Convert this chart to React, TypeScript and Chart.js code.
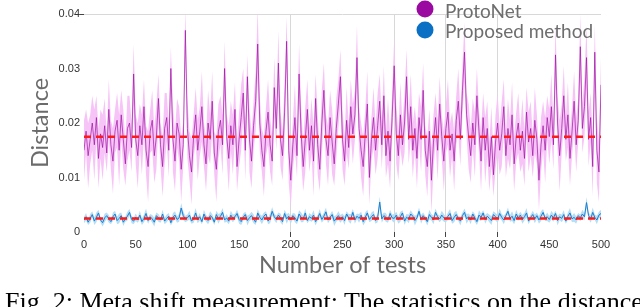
import { useEffect, useRef } from 'react';
import { Chart, registerables } from 'chart.js';

Chart.register(...registerables);

// Test numbers (x axis), sampled every 2 tests
const TESTS: number[] = Array.from({ length: 251 }, (_, i) => i * 2);
const UNIT = 1e-4; // all series below are in units of 1e-4

// ProtoNet distance per test (x1e-4)
const PROTONET = [
  150,185,140,170,200,160,210,135,180,155,195,145,225,160,130,185,205,150,215,170,125,190,200,155,290,
  170,140,195,160,230,150,120,185,205,140,175,245,160,120,190,210,150,300,170,130,200,180,115,160,370,
  190,140,110,175,215,150,185,230,160,125,200,170,240,145,115,185,205,160,300,175,135,195,160,225,120,
  170,210,255,150,285,170,130,195,240,345,200,150,120,185,220,160,130,265,190,310,170,140,220,350,150,
  95,160,210,140,290,180,120,170,225,150,195,130,245,160,115,200,260,170,140,210,165,125,190,235,285,
  170,130,205,155,230,180,215,320,190,150,120,180,235,100,170,210,150,195,240,160,250,140,185,130,210,
  305,180,140,215,160,200,285,170,230,150,190,135,210,170,260,150,120,185,95,165,210,150,235,175,130,
  190,220,150,180,130,205,240,170,260,330,215,175,140,200,160,250,185,130,210,150,190,120,175,105,165,
  200,150,180,230,140,190,160,215,125,175,200,150,185,135,220,165,190,140,205,170,95,160,195,150,210,
  175,230,160,325,200,140,190,250,170,215,135,185,240,160,205,340,190,230,320,170,210,120,330,150,110,270,
];

// ProtoNet band half-width per test (x1e-4)
const PROTONET_SPREAD = [
  55,40,60,45,50,65,40,55,45,60,50,35,55,45,60,40,50,65,45,55,40,60,50,45,55,
  45,60,40,55,50,45,65,40,55,50,60,45,40,55,65,45,50,40,60,55,45,50,60,40,40,
  55,45,60,40,50,55,45,65,40,50,60,45,55,40,60,50,45,55,50,40,60,45,55,50,45,
  50,60,45,55,40,60,50,45,55,65,50,40,55,45,60,50,45,55,40,60,50,45,55,45,60,
  50,45,60,40,55,50,45,60,55,40,50,65,45,55,40,60,50,45,55,50,60,40,55,45,50,
  55,45,60,40,50,55,45,60,40,50,55,45,60,50,40,55,45,60,50,45,55,40,60,50,45,
  50,55,45,60,40,55,50,45,60,50,40,55,45,60,50,45,55,40,60,50,45,55,50,40,55,
  45,60,50,40,55,45,60,50,45,55,40,60,50,45,60,50,40,55,45,60,50,45,55,40,50,
  55,45,60,50,40,55,45,60,50,45,55,40,60,50,45,55,50,40,60,45,55,50,45,60,40,
  50,60,45,55,50,65,45,55,40,60,50,45,55,50,40,60,45,55,60,50,45,55,50,60,55,50,
];

// Proposed method distance per test (x1e-4)
const PROPOSED = [
  22,28,18,25,32,20,27,35,22,17,26,30,24,19,28,33,21,25,30,18,24,29,36,23,20,
  27,22,31,19,25,34,21,28,24,18,30,26,22,33,20,25,29,17,27,31,23,26,44,30,24,
  26,31,20,24,35,22,28,19,33,25,21,30,27,18,32,24,29,36,22,26,20,31,25,28,34,
  23,19,27,32,21,26,30,24,18,35,27,22,29,33,20,25,38,28,23,31,26,19,34,24,29,
  22,30,26,20,33,27,24,35,21,28,25,31,19,26,34,23,29,37,22,27,32,20,25,30,24,
  28,21,33,26,24,36,22,29,25,31,19,27,35,23,28,32,21,26,55,24,30,27,22,34,26,
  25,31,22,28,35,20,27,24,33,29,21,26,38,23,30,25,19,32,27,22,36,28,24,31,26,
  23,29,34,21,27,32,25,20,30,36,24,28,22,33,26,19,31,27,35,23,29,25,21,32,28,
  24,34,27,22,30,38,25,29,21,33,26,31,23,28,35,20,27,32,24,30,22,29,36,25,28,
  23,31,26,34,21,28,25,32,20,29,35,24,27,22,30,26,33,28,54,30,24,36,27,22,31,34,
];

// Proposed method band half-width per test (x1e-4)
const PROPOSED_SPREAD = [
  6,7,5,8,6,7,9,6,5,7,8,6,7,5,8,6,7,9,6,7,5,8,6,7,6,
  7,5,8,6,7,9,6,5,7,8,6,7,5,8,6,7,6,5,8,7,6,7,9,8,6,
  6,8,5,7,9,6,7,5,8,6,7,8,6,5,7,9,6,8,5,7,6,8,7,5,7,
  8,6,7,5,9,6,7,8,5,7,6,8,7,5,6,9,8,6,7,5,8,6,7,9,6,
  7,5,8,6,7,9,6,8,5,7,6,9,7,5,8,6,7,8,6,5,7,9,6,8,7,
  6,8,5,7,9,6,7,5,8,6,7,9,6,5,8,7,6,8,10,7,6,8,5,7,6,
  8,6,7,9,5,7,6,8,7,5,9,6,7,8,6,5,7,9,6,8,7,5,6,8,7,
  5,7,8,6,9,7,5,8,6,7,9,6,8,5,7,6,9,7,5,8,6,7,8,6,7,
  7,9,6,8,5,7,6,9,7,8,5,6,8,7,9,6,5,7,8,6,7,9,6,5,8,
  6,8,7,5,9,6,7,8,5,7,9,6,8,7,5,6,8,7,10,6,7,9,5,8,6,7,
];

// Average distances (red dashed lines)
const PROTONET_AVG = 0.0175;
const PROPOSED_AVG = 0.0025;
const AVG_RANGE = [0, 500];

const SERIES_NAMES = ['ProtoNet', 'Proposed method'];
const X_TICK_STEP = 50;
const Y_TICK_STEP = 0.01;
const X_GRID_VALUES = [200, 300, 350, 400];
const Y_GRID_VALUES = [0.04];

const PURPLE = 'rgba(155, 10, 160, 0.75)';
const PINK = '#f7c4f7';
const BLUE = '#1c7fd0';
const LIGHT_BLUE = '#b8def5';
const RED = '#ff1a1a';

const pts = (arr: number[]) => arr.map((v, i) => ({ x: TESTS[i], y: v * UNIT }));

const cornerLegend = {
  id: 'cornerLegend',
  afterDraw(chart: any) {
    const ctx = chart.ctx as CanvasRenderingContext2D;
    const items = SERIES_NAMES.map((n) => chart.data.datasets.find((d: any) => d.inLegend && d.label === n)).filter(Boolean);
    ctx.save();
    items.forEach((d: any, i: number) => {
      ctx.beginPath();
      ctx.fillStyle = d.legendColor;
      ctx.arc(425, 9 + 21 * i, 8.5, 0, Math.PI * 2);
      ctx.fill();
      ctx.fillStyle = '#6e6e6e';
      ctx.font = '19px Lato';
      ctx.textBaseline = 'alphabetic';
      ctx.textAlign = 'left';
      ctx.fillText(d.label, 445, 18 + 19.5 * i);
    });
    ctx.restore();
  },
};

export default function App() {
  const ref = useRef<HTMLCanvasElement>(null);
  useEffect(() => {
    document.body.style.margin = '0';
    if (!ref.current) return;
    const pUp = pts(PROTONET.map((m, i) => m + PROTONET_SPREAD[i]));
    const pLo = pts(PROTONET.map((m, i) => m - PROTONET_SPREAD[i]));
    const bUp = pts(PROPOSED.map((m, i) => m + PROPOSED_SPREAD[i]));
    const bLo = pts(PROPOSED.map((m, i) => m - PROPOSED_SPREAD[i]));
    const line = { pointRadius: 0, tension: 0, fill: false };
    const chart = new Chart(ref.current, {
      type: 'line',
      data: {
        datasets: [
          { ...line, label: 'ProtoNet mean', order: 0, data: AVG_RANGE.map((x) => ({ x, y: PROTONET_AVG })), borderColor: RED, borderWidth: 2.5, borderDash: [7, 5] },
          { ...line, label: 'Proposed mean', order: 0, data: AVG_RANGE.map((x) => ({ x, y: PROPOSED_AVG })), borderColor: RED, borderWidth: 2.5, borderDash: [7, 5] },
          { ...line, label: SERIES_NAMES[1], inLegend: true, legendColor: '#0a70c4', order: 1, data: pts(PROPOSED), borderColor: BLUE, borderWidth: 1 },
          { ...line, label: 'Proposed upper', order: 2, data: bUp, borderWidth: 0, borderColor: 'rgba(0,0,0,0)' },
          { ...line, label: 'Proposed lower', order: 2, data: bLo, borderWidth: 0, borderColor: 'rgba(0,0,0,0)', fill: '-1', backgroundColor: LIGHT_BLUE },
          { ...line, label: SERIES_NAMES[0], inLegend: true, legendColor: '#9a0aa0', order: 3, data: pts(PROTONET), borderColor: PURPLE, borderWidth: 0.9 },
          { ...line, label: 'ProtoNet upper', order: 4, data: pUp, borderWidth: 0, borderColor: 'rgba(0,0,0,0)' },
          { ...line, label: 'ProtoNet lower', order: 4, data: pLo, borderWidth: 0, borderColor: 'rgba(0,0,0,0)', fill: '-1', backgroundColor: PINK },
        ] as any,
      },
      options: {
        animation: false,
        responsive: false,
        maintainAspectRatio: false,
        layout: { padding: { top: 14, right: 39, left: 0, bottom: 0 } },
        plugins: { legend: { display: false }, tooltip: { enabled: false } },
        scales: {
          x: {
            type: 'linear',
            min: 0,
            max: 500,
            afterFit: (s: any) => { s.height = 75; },
            border: { display: false },
            grid: {
              color: (c: any) => (X_GRID_VALUES.includes(c.tick?.value) ? '#d8d8d8' : 'rgba(0,0,0,0)'),
              tickColor: (c: any) => (X_GRID_VALUES.includes(c.tick?.value) ? '#444' : 'rgba(0,0,0,0)'),
              tickLength: 5,
            },
            ticks: { stepSize: X_TICK_STEP, color: '#333', padding: 1, maxRotation: 0, font: { family: 'Liberation Sans', size: 11 } },
            title: { display: true, text: 'Number of tests', color: '#6b6b6b', font: { family: 'Lato', size: 23.5 }, padding: { top: 0, bottom: 27 } },
          },
          y: {
            min: 0,
            max: 0.04,
            afterFit: (s: any) => { s.width = 84; },
            border: { display: false },
            grid: {
              color: (c: any) => (Y_GRID_VALUES.some((g) => Math.abs((c.tick?.value ?? -1) - g) < 1e-9) ? '#d8d8d8' : 'rgba(0,0,0,0)'),
              tickColor: (c: any) => (Y_GRID_VALUES.some((g) => Math.abs((c.tick?.value ?? -1) - g) < 1e-9) ? '#444' : 'rgba(0,0,0,0)'),
              tickLength: 4,
            },
            ticks: {
              stepSize: Y_TICK_STEP,
              color: '#333',
              padding: 0,
              font: { family: 'Liberation Sans', size: 11 },
              callback: (v: any) => (Number(v) === 0 ? '0' : Number(v).toFixed(2)),
            },
            title: { display: true, text: 'Distance', color: '#6b6b6b', font: { family: 'Lato', size: 23.5 }, padding: { top: 26, bottom: 0 } },
          },
        },
      },
      plugins: [cornerLegend],
    });
    return () => chart.destroy();
  }, []);

  return (
    <div style={{ position: 'relative', width: 640, height: 307, overflow: 'hidden', background: '#fff' }}>
      <canvas ref={ref} width={640} height={307} style={{ position: 'absolute', left: 0, top: 0 }} />
      <div style={{ position: 'absolute', left: 5, top: 289, fontFamily: '"Liberation Serif", serif', fontSize: 26, lineHeight: '26px', whiteSpace: 'nowrap', color: '#000' }}>
        Fig. 2: Meta shift measurement: The statistics on the distance
      </div>
    </div>
  );
}
